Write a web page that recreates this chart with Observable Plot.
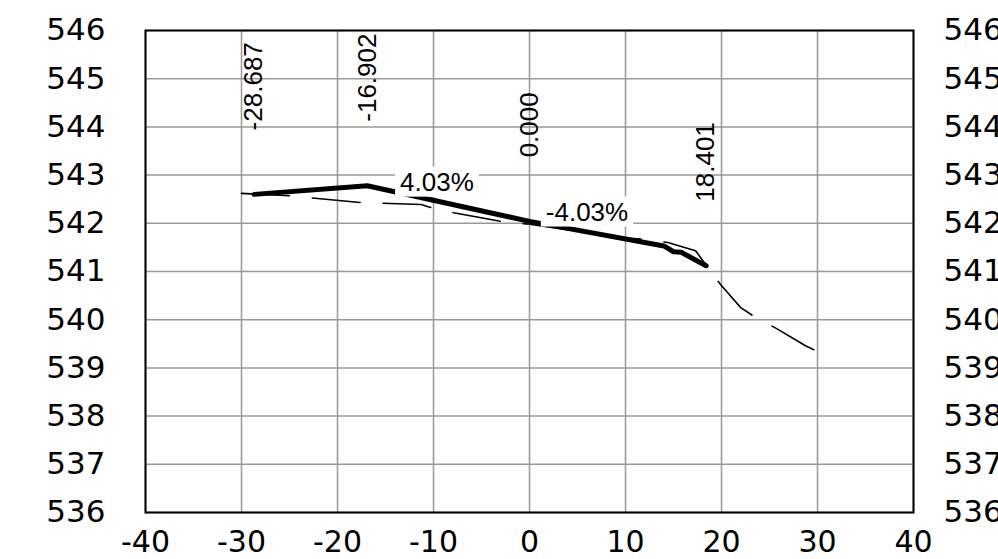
<!DOCTYPE html>
<html><head><meta charset="utf-8">
<script src="https://cdn.jsdelivr.net/npm/d3@7"></script>
<script src="https://cdn.jsdelivr.net/npm/@observablehq/plot@0.6"></script>
<style>html,body{margin:0;padding:0;background:#fff;overflow:hidden}</style>
</head><body><div id="chart"></div>
<script>
// Tick values
const xTicks = [-40, -30, -20, -10, 0, 10, 20, 30, 40];
const yTicks = [536, 537, 538, 539, 540, 541, 542, 543, 544, 545, 546];

// Design (thick) profile
const designX = [-28.687, -16.902, 0, 14.0, 15.0, 15.8, 18.401];
const designY = [542.60, 542.78, 542.04, 541.53, 541.41, 541.40, 541.12];

// Existing ground (dashed) profile
const groundX = [-30.0, -25.0, -17.6, -11.3, -10.3, -7.9, -3.0, 0, 3.2, 9.5, 12.0, 14.4, 17.3, 18.3, 19.9, 22.0, 23.6, 25.7, 28.75, 30.0];
const groundY = [542.62, 542.57, 542.43, 542.39, 542.33, 542.22, 542.04, 541.98, 541.89, 541.70, 541.67, 541.60, 541.43, 541.16, 540.73, 540.25, 540.04, 539.82, 539.46, 539.34];

// Station labels (at design break points)
const stations = [-28.687, -16.902, 0, 18.401];
const stationElev = [542.60, 542.78, 542.04, 541.12];

// Slope labels
const slopeText = ["4.03%", "-4.03%"];
const slopeX = [-9.64, 5.99];
const slopeY = [542.85, 542.23];

const design = designX.map((x, i) => ({x, y: designY[i]}));
const ground = groundX.map((x, i) => ({x, y: groundY[i]}));
const stationData = stations.map((s, i) => ({x: s, y: stationElev[i], label: s.toFixed(3)}));
const slopeData = slopeText.map((t, i) => ({x: slopeX[i], y: slopeY[i], label: t}));

const axisFont = "DejaVu Sans, Verdana, sans-serif";
const labelFont = "Liberation Sans, Arial, sans-serif";
const fmt = d => String(d);

const chart = Plot.plot({
  width: 998,
  height: 559,
  marginLeft: 145,
  marginRight: 85,
  marginTop: 30,
  marginBottom: 47,
  style: {background: "#fff", overflow: "visible"},
  x: {domain: [-40, 40]},
  y: {domain: [536, 546]},
  marks: [
    Plot.gridX(xTicks, {stroke: "#999", strokeOpacity: 1, strokeWidth: 1.5}),
    Plot.gridY(yTicks, {stroke: "#999", strokeOpacity: 1, strokeWidth: 1.5}),
    Plot.axisY({anchor: "left", ticks: yTicks, tickFormat: fmt, tickSize: 0, tickPadding: 40, fontSize: 31, fontFamily: axisFont, fill: "#000", label: null}),
    Plot.axisY({anchor: "right", ticks: yTicks, tickFormat: fmt, tickSize: 0, tickPadding: 30, fontSize: 31, fontFamily: axisFont, fill: "#000", label: null}),
    Plot.axisX({anchor: "bottom", ticks: xTicks, tickFormat: fmt, tickSize: 0, tickPadding: 18, fontSize: 30, fontFamily: axisFont, fill: "#000", label: null}),
    Plot.frame({stroke: "#000", strokeWidth: 2}),
    Plot.line(ground, {x: "x", y: "y", stroke: "#000", strokeWidth: 1.6, strokeDasharray: "48,23"}),
    Plot.line(design, {x: "x", y: "y", stroke: "#000", strokeWidth: 5, strokeLinejoin: "round", strokeLinecap: "round"}),
    Plot.text(stationData, {x: "x", y: "y", text: "label", rotate: -90, textAnchor: "start", dy: -64, fontSize: 26, fontFamily: labelFont, fill: "#000"}),
    Plot.text(slopeData, {x: "x", y: "y", text: "label", fontSize: 26, fontFamily: labelFont, fill: "#000"})
  ]
});

document.getElementById("chart").appendChild(chart);

// White boxes behind slope labels
d3.select(chart).selectAll("text").filter(function() { return /%$/.test(this.textContent); }).each(function() {
  const b = this.getBBox();
  const padX = 5;
  d3.select(this.parentNode).insert("rect", () => this)
    .attr("x", b.x - padX).attr("y", b.y)
    .attr("width", b.width + 2 * padX).attr("height", b.height)
    .attr("fill", "#fff")
    .attr("transform", this.getAttribute("transform"));
});
</script>
</body></html>
